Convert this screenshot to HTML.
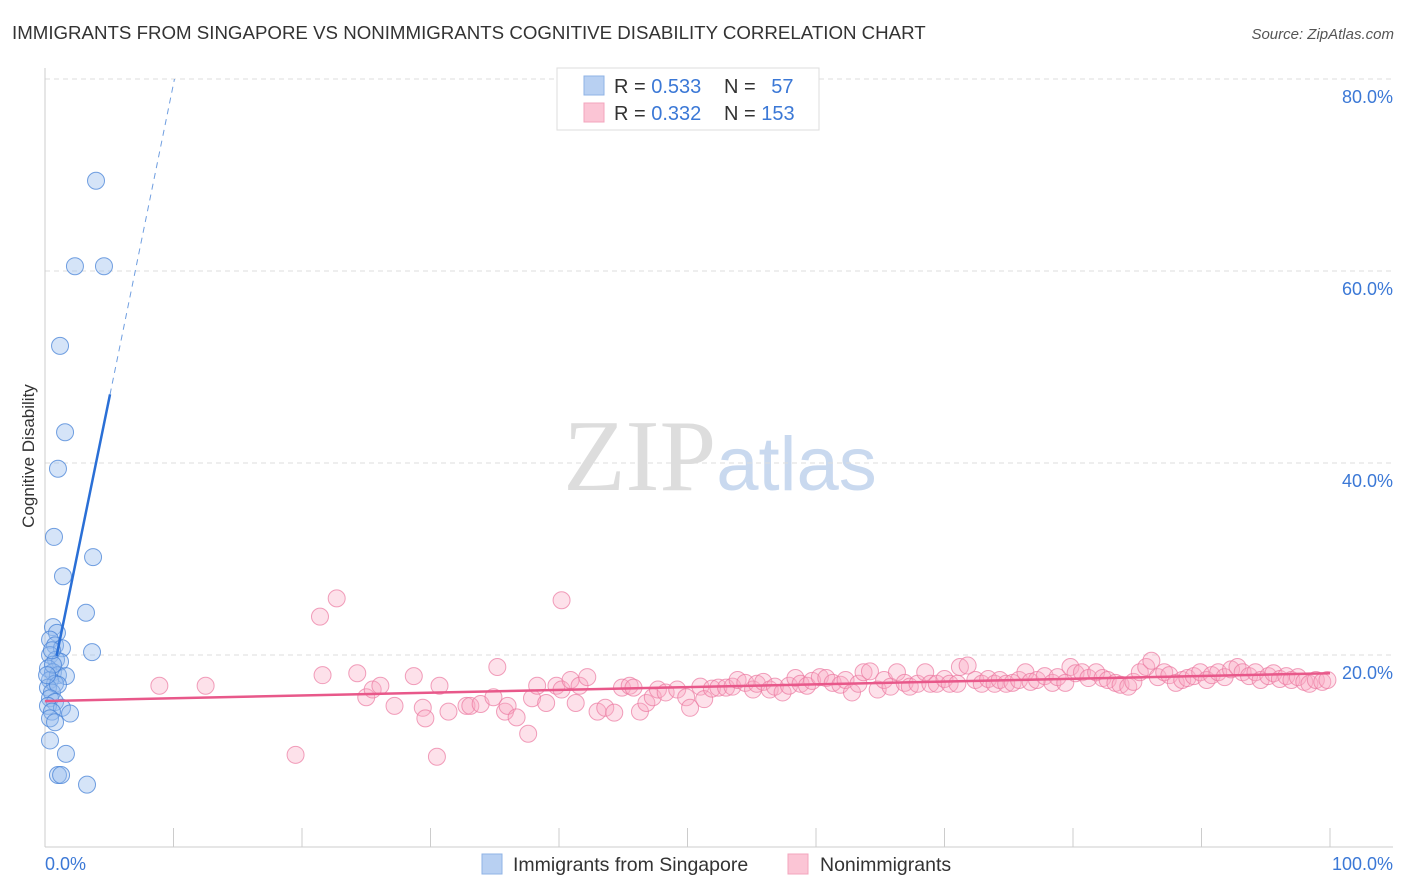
<!DOCTYPE html>
<html><head><meta charset="utf-8"><style>
body{margin:0;background:#fff;font-family:"Liberation Sans",sans-serif;}
#wrap{position:relative;width:1406px;height:892px;overflow:hidden;}
</style></head><body>
<div id="wrap">
<svg id="svg" width="1406" height="892" xmlns="http://www.w3.org/2000/svg">
<text x="12" y="39" font-size="18.7" fill="#333">IMMIGRANTS FROM SINGAPORE VS NONIMMIGRANTS COGNITIVE DISABILITY CORRELATION CHART</text>
<text x="1394" y="39" font-size="15" fill="#555" font-style="italic" text-anchor="end">Source: ZipAtlas.com</text>
<text x="720" y="490" font-size="102" fill="#ddd" text-anchor="middle" font-family="Liberation Serif,serif">ZIP<tspan fill="#c9d9ef" font-family="Liberation Sans,sans-serif" font-size="76">atlas</tspan></text>
<text transform="translate(34,456) rotate(-90)" font-size="17" fill="#333" text-anchor="middle">Cognitive Disability</text>
<g id="grid"></g><g id="pts"></g><g id="lines"></g>
<g>
<rect x="557" y="68" width="262" height="62" fill="#fff" stroke="#ddd"/>
<rect x="584" y="76" width="20" height="19" fill="#b8d0f2" stroke="#8fb3e6"/>
<rect x="584" y="103" width="20" height="19" fill="#fbc5d5" stroke="#f3a5bd"/>
<text x="614" y="93" font-size="20" fill="#333">R = <tspan fill="#3b78d6">0.533</tspan></text>
<text x="724" y="93" font-size="20" fill="#333">N = <tspan fill="#3b78d6" dx="10">57</tspan></text>
<text x="614" y="120" font-size="20" fill="#333">R = <tspan fill="#3b78d6">0.332</tspan></text>
<text x="724" y="120" font-size="20" fill="#333">N = <tspan fill="#3b78d6">153</tspan></text>
</g>
<g>
<rect x="482" y="854" width="20" height="20" fill="#b8d0f2" stroke="#8fb3e6"/>
<text x="513" y="871" font-size="19.5" fill="#333">Immigrants from Singapore</text>
<rect x="788" y="854" width="20" height="20" fill="#fbc5d5" stroke="#f3a5bd"/>
<text x="820" y="871" font-size="19.5" fill="#333">Nonimmigrants</text>
</g>
<text x="45" y="870" font-size="18" fill="#3b78d6">0.0%</text>
<text x="1393" y="870" font-size="18" fill="#3b78d6" text-anchor="end">100.0%</text>
</svg>
</div>
<script>
const blueX=[3.97,2.33,4.59,1.17,1.56,1.01,0.70,3.74,1.40,3.19,3.66,0.62,0.93,0.39,0.78,1.32,0.39,0.86,1.17,0.23,0.62,1.01,1.63,0.39,0.78,0.23,0.54,1.01,0.39,0.78,0.23,1.32,0.54,1.95,0.39,0.78,0.39,1.63,1.01,1.25,3.27,0.62,0.16,0.54];
const blueY=[69.4,60.5,60.5,52.2,43.2,39.4,32.3,30.2,28.2,24.4,20.3,22.9,22.3,21.6,21.0,20.7,20.0,19.5,19.3,18.6,18.2,17.9,17.8,17.4,17.0,16.6,16.1,16.9,15.5,15.1,14.7,14.5,14.1,13.9,13.4,13.0,11.1,9.7,7.5,7.5,6.5,19.0,17.9,20.5];
const pinkX=[8.9,12.5,21.4,22.7,19.5,30.5,40.2,21.6,24.3,28.7,35.2,25.0,25.5,26.1,27.2,29.4,29.6,30.7,31.4,32.8,33.1,33.9,34.9,35.8,36.0,36.7,37.6,37.9,38.3,39.0,39.8,40.2,40.9,41.6,42.2,41.3,43.0,43.6,44.3,44.9,45.5,45.8,46.3,46.8,47.3,47.7,48.3,49.2,49.9,50.2,51.0,51.3,51.9,52.4,53.0,53.5,53.9,54.5,55.1,55.4,55.9,56.4,56.8,57.4,57.9,58.4,58.8,59.3,59.7,60.3,60.8,61.3,61.9,62.3,62.8,63.3,63.7,64.2,64.8,65.3,65.8,66.3,66.9,67.3,67.9,68.5,68.9,69.4,70.0,70.4,71.0,71.2,71.8,72.4,72.9,73.4,73.9,74.3,74.8,75.3,75.8,76.3,76.7,77.2,77.8,78.4,78.8,79.4,79.8,80.2,80.7,81.2,81.8,82.3,82.7,83.3,83.7,84.3,84.7,85.2,85.7,86.1,86.6,87.1,87.5,88.0,88.5,88.9,89.4,89.9,90.4,90.8,91.3,91.8,92.3,92.8,93.2,93.7,94.2,94.6,95.2,95.6,96.1,96.6,97.0,97.5,98.0,98.4,98.9,99.4,99.8];
const pinkY=[16.8,16.8,24.0,25.9,9.6,9.4,25.7,17.9,18.1,17.8,18.75,15.6,16.4,16.8,14.7,14.5,13.4,16.8,14.1,14.7,14.7,14.9,15.6,14.1,14.7,13.5,11.8,15.5,16.8,15.0,16.8,16.4,17.4,16.8,17.7,15.0,14.1,14.5,14.0,16.6,16.8,16.6,14.1,15.0,15.6,16.4,16.1,16.4,15.6,14.5,16.7,15.4,16.5,16.6,16.6,16.7,17.4,17.1,16.4,17.0,17.2,16.4,16.7,16.1,16.8,17.6,17.0,16.8,17.3,17.7,17.6,17.1,16.9,17.4,16.1,17.0,18.2,18.3,16.4,17.4,16.7,18.2,17.1,16.7,17.0,18.2,17.0,17.0,17.5,17.0,17.0,18.75,18.9,17.4,17.0,17.5,17.0,17.4,17.0,17.1,17.4,18.2,17.2,17.4,17.8,17.1,17.7,17.1,18.75,18.1,18.2,17.6,18.2,17.6,17.4,17.1,16.9,16.7,17.2,18.2,18.75,19.4,17.7,18.2,17.9,17.1,17.4,17.6,17.8,18.2,17.4,17.9,18.2,17.7,18.5,18.75,18.2,17.8,18.2,17.4,17.8,18.1,17.5,17.8,17.4,17.7,17.2,17.0,17.4,17.2,17.4];
const yTicks=[20,40,60,80];
const xTicks=[0,10,20,30,40,50,60,70,80,90,100];
const NS='http://www.w3.org/2000/svg';
const sx=v=>45+v*12.85, sy=v=>847-v*9.6;
function mk(tag,attrs,parent){const e=document.createElementNS(NS,tag);for(const k in attrs)e.setAttribute(k,attrs[k]);document.getElementById(parent).appendChild(e);return e;}
yTicks.forEach(t=>{
 const l=mk('line',{x1:45,x2:1393,y1:sy(t),y2:sy(t),stroke:'#ddd','stroke-dasharray':'5,4'},'grid');
 
 
 const tx=mk('text',{x:1393,y:sy(t)+24,'font-size':18,fill:'#3b78d6','text-anchor':'end'},'grid');
 tx.textContent=t.toFixed(1)+'%';
 
 
});
mk('line',{x1:45,x2:45,y1:68,y2:847,stroke:'#ccc'},'grid');
mk('line',{x1:45,x2:1393,y1:847,y2:847,stroke:'#ccc'},'grid');
xTicks.forEach(t=>{const l=mk('line',{x1:sx(t),x2:sx(t),y1:828,y2:847,stroke:'#ccc'},'grid');
 
 });
pinkX.forEach((x,i)=>{const c=mk('circle',{cx:sx(x),cy:sy(pinkY[i]),r:8.5,fill:'rgba(248,170,195,0.35)',stroke:'rgba(235,120,160,0.7)','stroke-width':1},'pts');
 
 });
blueX.forEach((x,i)=>{const c=mk('circle',{cx:sx(x),cy:sy(blueY[i]),r:8.5,fill:'rgba(150,188,238,0.4)',stroke:'rgba(70,130,215,0.75)','stroke-width':1},'pts');
 
 });
// trend lines
const pb=[15.2,0.029], bb=[14.0,6.55];
let l=mk('line',{x1:sx(0),y1:sy(pb[0]),x2:sx(100),y2:sy(pb[0]+pb[1]*100),stroke:'#e8588a','stroke-width':2.5},'lines');


l=mk('line',{x1:sx(0.9),y1:sy(bb[0]+bb[1]*0.9),x2:sx(5.06),y2:sy(bb[0]+bb[1]*5.06),stroke:'#2a6fd6','stroke-width':2.5},'lines');


const xEnd=(80-bb[0])/bb[1];
l=mk('line',{x1:sx(5.06),y1:sy(bb[0]+bb[1]*5.06),x2:sx(xEnd),y2:sy(80),stroke:'#6f9ee0','stroke-width':1,'stroke-dasharray':'6,5'},'lines');


</script>
</body></html>
